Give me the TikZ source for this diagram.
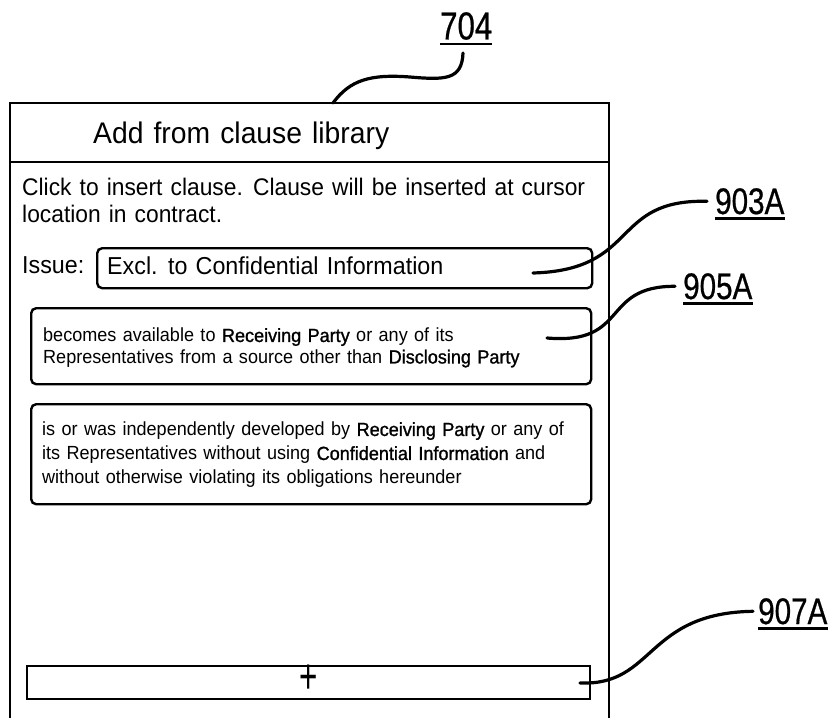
\documentclass[tikz,border=0pt]{standalone}
\usepackage{fontspec}
\usepackage{graphicx}
\setmainfont[FakeStretch=0.95,WordSpace=1.28]{Liberation Sans}
\newfontfamily\medfont[FakeStretch=0.95,FakeBold=1.2,WordSpace=1.28]{Liberation Sans}
\newfontfamily\labfont[FakeStretch=0.8,FakeBold=0.6]{Liberation Sans}
\newcommand\bw[1]{{\medfont #1}}
\begin{document}
\begin{tikzpicture}[x=1pt,y=-1pt,
  frame/.style={draw, line width=2.6pt},
  cbox/.style={draw, line width=2.4pt, rounded corners=5pt, anchor=north west, inner sep=0pt},
  btn/.style={draw, line width=2.2pt, anchor=north west, inner sep=0pt},
  lead/.style={line width=3.2pt, line cap=round},
  lab/.style={font=\labfont\fontsize{37}{40}\selectfont, inner sep=0pt, anchor=north west},
  ul/.style={line width=2.8pt},
  txt/.style={inner sep=0pt, anchor=north west, align=left}]
\useasboundingbox (0,0) rectangle (836,718);
\fill[white] (0,0) rectangle (836,718);
% frame
\draw[frame] (10,718) -- (10,103) -- (609,103) -- (609,718);
\draw[frame] (10,162) -- (609,162);
\node[txt, font=\fontsize{29.8}{34}\selectfont] (title) at (93,122) {Add from clause library};
\node[txt, font=\fontsize{24}{27}\selectfont] (intro) at (22,178) {Click to insert clause. Clause will be inserted at cursor\\location in contract.};
\node[txt, font=\fontsize{24.5}{27}\selectfont] (issuelbl) at (22,256) {Issue:};
\node[cbox, minimum width=495pt, minimum height=40pt] (issuebox) at (96,247) {};
\node[txt, font=\fontsize{24.5}{27}\selectfont] (issuetxt) at (107,257) {Excl. to Confidential Information};
% clauses
\node[cbox, minimum width=560pt, minimum height=76pt] (clause1) at (30,307) {};
\node[txt, font=\fontsize{19}{21.5}\selectfont] (c1txt) at (43,328) {becomes available to \bw{Receiving Party} or any of its\\Representatives from a source other than \bw{Disclosing Party}};
\node[cbox, minimum width=560pt, minimum height=100pt] (clause2) at (30,403) {};
\node[txt, font=\fontsize{19}{24}\selectfont] (c2txt) at (42,422) {is or was independently developed by \bw{Receiving Party} or any of\\its Representatives without using \bw{Confidential Information} and\\without otherwise violating its obligations hereunder};
% add button
\node[btn, minimum width=563pt, minimum height=33pt] (addbtn) at (26,665) {};
\node[inner sep=0pt, font=\fontsize{33}{36}\selectfont] (plus) at (309,679) {\scalebox{1}[1.5]{+}};
% labels
\node[lab, font=\labfont\fontsize{39}{42}\selectfont] (l704) at (440,12) {704};
\node[lab] (l903) at (715,188) {903A};
\node[lab] (l905) at (683,273) {905A};
\node[lab] (l907) at (758,598) {907A};
\foreach \l in {l704,l903,l905,l907}
  \draw[ul] ([yshift=-4pt]\l.south west) -- ([yshift=-4pt]\l.south east);
% leader ends
\coordinate (s704) at (463,53);
\coordinate (a704) at (333,103);
\coordinate (c903) at (533,273);
\coordinate (c905) at (547,338);
\coordinate (c907) at (580,683);
\draw[lead] (s704) .. controls (462,80) and (445,80) .. (410,77) .. controls (370,74) and (350,80) .. (a704);
\draw[lead] (c903) .. controls (640,270) and (610,199) .. ([xshift=-8pt]l903.west);
\draw[lead] (c905) .. controls (630,345) and (600,286) .. ([xshift=-8pt]l905.west);
\draw[lead] (c907) .. controls (655,686) and (645,613) .. ([xshift=-5pt]l907.west);
\end{tikzpicture}
\end{document}
